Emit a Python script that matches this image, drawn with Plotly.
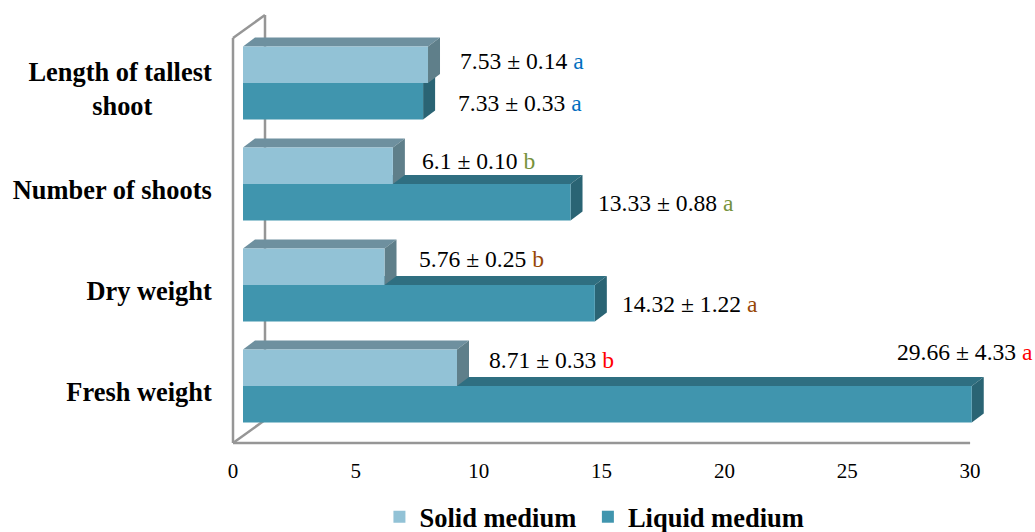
import plotly.graph_objects as go

categories = ["Fresh weight", "Dry weight", "Number of shoots", "Length of tallest shoot"]
category_ticktext = ["Fresh weight", "Dry weight", "Number of shoots",
                     "Length of tallest<br>shoot" + "\u00a0" * 9]
solid_values = [8.71, 5.76, 6.1, 7.53]
liquid_values = [29.66, 14.32, 13.33, 7.33]
solid_err = ["0.33", "0.25", "0.10", "0.14"]
liquid_err = ["4.33", "1.22", "0.88", "0.33"]
solid_val_text = ["8.71", "5.76", "6.1", "7.53"]
liquid_val_text = ["29.66", "14.32", "13.33", "7.33"]
solid_letters = ["b", "b", "b", "a"]
liquid_letters = ["a", "a", "a", "a"]
letter_colors = ["#FF0000", "#974706", "#76923C", "#0070C0"]
x_ticks = [0, 5, 10, 15, 20, 25, 30]

# label offsets in pixels from bar end / bar centre
solid_label_dx = [32, 34.5, 29, 32]
solid_label_dy = [7.5, 7.5, 4.5, 3.5]
liquid_label_dx = [-75, 27, 27.5, 35]
liquid_label_dy = [52, -1, -1, -2]

PX_PER_X = 24.57
PX_PER_Y = 101.0
X0_PX, Y0_PX = 243.0, 386.0     # pixel of value 0 / first category centre
LEFT, RIGHT, TOP, BOTTOM = 229, 1000, 11, 447   # plot area, a little beyond the walls
WALL_L, WALL_T, WALL_B = 233, 15, 443
W, H = 1035, 532
DX, DY = 12 / PX_PER_X, 9 / PX_PER_Y
BAR_H = 36.5 / PX_PER_Y
WALL_DX, WALL_DY = 32 / PX_PER_X, 23 / PX_PER_Y
plot_h = BOTTOM - TOP

xr = [(LEFT - X0_PX) / PX_PER_X, (RIGHT - X0_PX) / PX_PER_X]
yr = [(Y0_PX - BOTTOM) / PX_PER_Y, (Y0_PX - TOP) / PX_PER_Y]
ypos = list(range(len(categories)))

SOLID, SOLID_TOP, SOLID_SIDE = "#92C2D6", "#6E909F", "#5F7F8A"
LIQUID, LIQUID_TOP, LIQUID_SIDE = "#4095AE", "#2F6F81", "#2A6474"
WALL = "#969696"
SERIF = "Liberation Serif, Times New Roman, serif"

xl = (WALL_L - X0_PX) / PX_PER_X
yb = (Y0_PX - WALL_B) / PX_PER_Y
yt = (Y0_PX - WALL_T) / PX_PER_Y
xe = xl + 30

fig = go.Figure()
fig.add_bar(name="Liquid medium", y=ypos, x=liquid_values, orientation="h",
            marker=dict(color=LIQUID, line=dict(width=0)))
fig.add_bar(name="Solid medium\u00a0", y=ypos, x=solid_values, orientation="h",
            marker=dict(color=SOLID, line=dict(width=0)))
fig.add_scatter(x=[xl, xe], y=[yb, yb], mode="lines", showlegend=False, hoverinfo="skip",
                line=dict(color=WALL, width=2.5))


def poly(points, color):
    path = "M" + " L".join(f"{a},{b}" for a, b in points) + " Z"
    return dict(type="path", path=path, xref="x", yref="y", fillcolor=color,
                line=dict(width=0), layer="below")


shapes = []
# walls
for a, b in [((xl, yb), (xl, yt - WALL_DY)),
             ((xl, yb), (xl + WALL_DX, yb + WALL_DY)),
             ((xl, yt - WALL_DY), (xl + WALL_DX, yt)),
             ((xl + WALL_DX, yb + WALL_DY), (xl + WALL_DX, yt))]:
    shapes.append(dict(type="line", x0=a[0], y0=a[1], x1=b[0], y1=b[1], xref="x", yref="y",
                       line=dict(color=WALL, width=2.5), layer="below"))


def faces(v, lo, hi, top, side):
    return [poly([(0, hi), (DX, hi + DY), (v + DX, hi + DY), (v, hi)], top),
            poly([(v, lo), (v + DX, lo + DY), (v + DX, hi + DY), (v, hi)], side)]


for i in ypos:
    shapes += faces(liquid_values[i], i - BAR_H, i, LIQUID_TOP, LIQUID_SIDE)
for i in ypos:
    shapes += faces(solid_values[i], i, i + BAR_H, SOLID_TOP, SOLID_SIDE)

annotations = []
for i in ypos:
    for val, vt, err, let, dx, dy, c in [
        (solid_values[i], solid_val_text[i], solid_err[i], solid_letters[i],
         solid_label_dx[i], solid_label_dy[i], i + BAR_H / 2),
        (liquid_values[i], liquid_val_text[i], liquid_err[i], liquid_letters[i],
         liquid_label_dx[i], liquid_label_dy[i], i - BAR_H / 2),
    ]:
        annotations.append(dict(
            x=val, y=c, xref="x", yref="y", xanchor="left", yanchor="middle",
            xshift=dx - 2, yshift=dy, showarrow=False,
            text=f"{vt} ± {err} <span style='color:{letter_colors[i]}'>{let}</span>",
            font=dict(family=SERIF, size=23.6, color="#000000")))

fig.update_layout(
    width=W, height=H, autosize=False, paper_bgcolor="white", plot_bgcolor="white",
    margin=dict(l=LEFT, r=W - RIGHT, t=TOP, b=H - BOTTOM, pad=0, autoexpand=False),
    barmode="group", bargap=1 - 2 * BAR_H, bargroupgap=0,
    shapes=shapes, annotations=annotations,
    xaxis=dict(range=xr, tickvals=[t + xl for t in x_ticks], ticktext=[str(t) for t in x_ticks],
               showgrid=False, zeroline=False, showline=False, ticks="outside", ticklen=5,
               tickcolor="rgba(0,0,0,0)", tickfont=dict(family=SERIF, size=21, color="#000")),
    yaxis=dict(range=yr, tickvals=[i - 6 / PX_PER_Y for i in ypos], ticktext=category_ticktext,
               showgrid=False, zeroline=False, showline=False, ticks="outside", ticklen=11,
               tickcolor="rgba(0,0,0,0)", automargin=False,
               tickfont=dict(family=SERIF, size=26.4, color="#000", weight="bold")),
    legend=dict(orientation="h", traceorder="reversed", xref="container", yref="paper",
                x=0.3666, y=(BOTTOM - 541) / plot_h, xanchor="left", yanchor="bottom",
                font=dict(family=SERIF, size=26.5, color="#000", weight="bold"),
                itemwidth=30, bgcolor="rgba(0,0,0,0)"),
)

fig.write_html("out.html", config=dict(displayModeBar=False),
               post_script="document.body.style.margin='0';")
